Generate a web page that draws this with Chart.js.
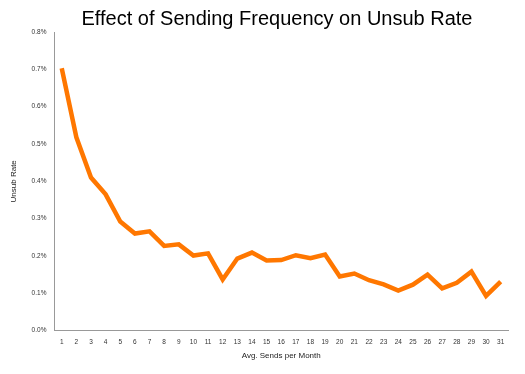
<!DOCTYPE html>
<html><head><meta charset="utf-8">
<script src="https://cdn.jsdelivr.net/npm/chart.js@4/dist/chart.umd.min.js"></script>
<style>html,body{margin:0;padding:0;background:#fff}#wrap{width:525px;height:374px}</style>
</head><body><div id="wrap"><canvas id="c" width="525" height="374"></canvas></div>
<script>
const categories = ["1","2","3","4","5","6","7","8","9","10","11","12","13","14","15","16","17","18","19","20","21","22","23","24","25","26","27","28","29","30","31"];
const unsubRate = [0.703,0.518,0.41,0.365,0.292,0.26,0.266,0.227,0.231,0.201,0.207,0.137,0.193,0.209,0.188,0.189,0.202,0.194,0.204,0.145,0.153,0.135,0.124,0.107,0.123,0.15,0.113,0.128,0.158,0.093,0.131];
const yTicks = [0,0.1,0.2,0.3,0.4,0.5,0.6,0.7,0.8];
const chartTitle = 'Effect of Sending Frequency on Unsub Rate';

const titlePlugin = {
  id: 'titleText',
  afterDraw(chart) {
    const ctx = chart.ctx;
    ctx.save();
    ctx.font = '20px "Liberation Sans"';
    ctx.fillStyle = '#000';
    ctx.textAlign = 'center';
    ctx.textBaseline = 'middle';
    ctx.fillText(chartTitle, 277, 19);
    ctx.restore();
  }
};

new Chart(document.getElementById('c'), {
  type: 'line',
  data: { labels: categories, datasets: [{ data: unsubRate, borderColor: '#FF7700', borderWidth: 4.5, pointRadius: 0, tension: 0, fill: false }] },
  plugins: [titlePlugin],
  options: {
    responsive: false, animation: false,
    layout: { padding: { left: 9, right: 17, top: 32, bottom: 13 } },
    plugins: { legend: { display: false }, tooltip: { enabled: false }, title: { display: false } },
    scales: {
      x: { offset: true, grid: { display: false, drawTicks: false }, border: { color: '#999', width: 1 },
        ticks: { color: '#333', font: { family: 'Liberation Sans', size: 6.5 }, padding: 8, maxRotation: 0, autoSkip: false },
        title: { display: true, text: 'Avg. Sends per Month', color: '#222', font: { family: 'Liberation Sans', size: 8 }, padding: { top: -3, bottom: 0 } } },
      y: { min: 0, max: 0.8, grid: { display: false, drawTicks: false }, border: { color: '#999', width: 1 },
        afterBuildTicks: s => { s.ticks = yTicks.map(v => ({ value: v })); },
        ticks: { color: '#333', font: { family: 'Liberation Sans', size: 6.5 }, padding: 8, callback: v => v.toFixed(1) + '%' },
        title: { display: true, text: 'Unsub Rate', color: '#222', font: { family: 'Liberation Sans', size: 8 }, padding: { top: 0, bottom: 5 } } }
    }
  }
});
</script></body></html>
